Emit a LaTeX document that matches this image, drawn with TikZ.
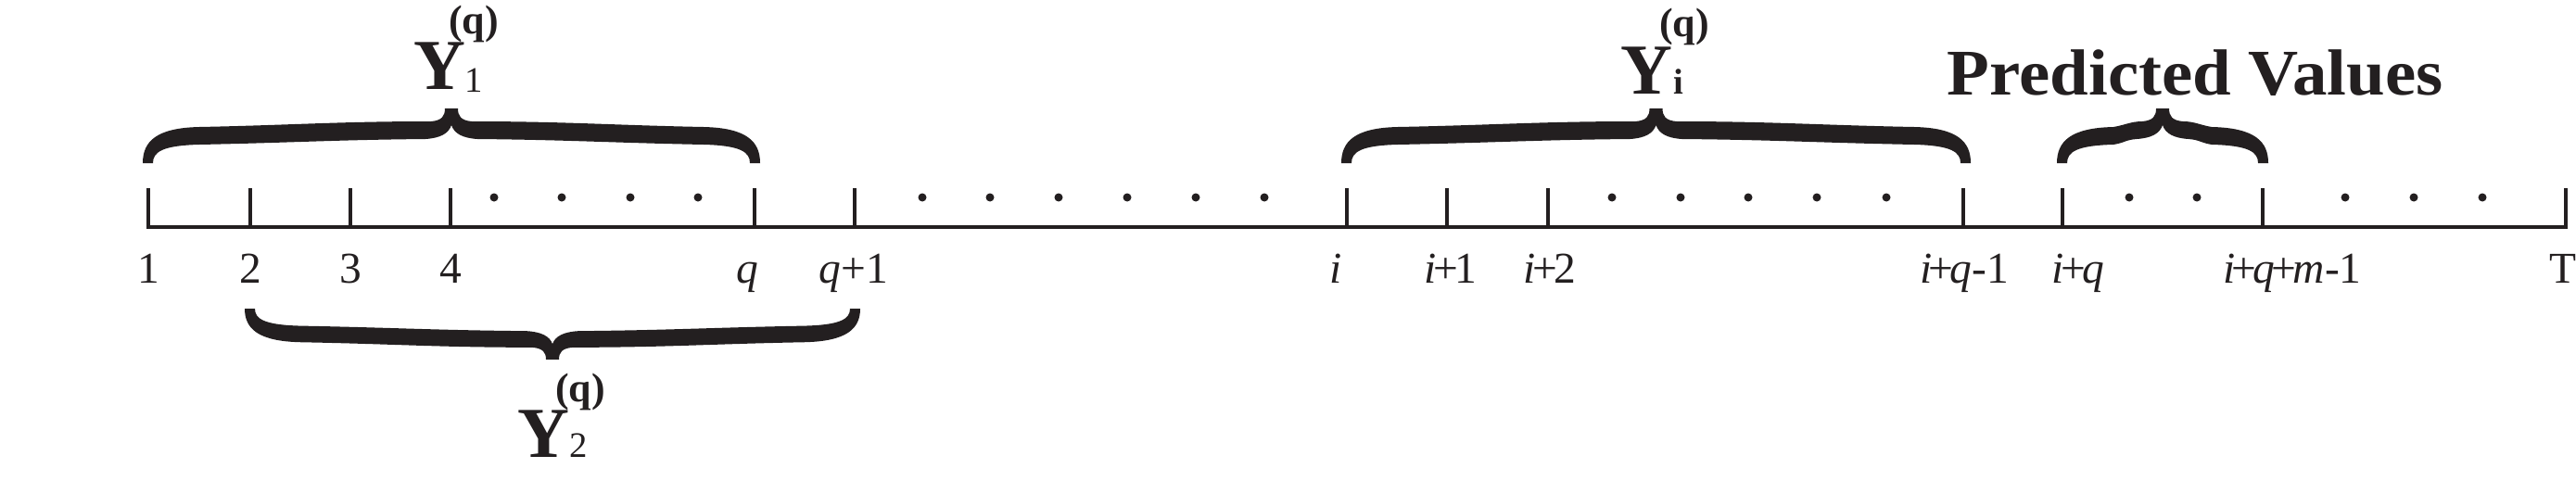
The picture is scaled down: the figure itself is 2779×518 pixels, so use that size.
\documentclass[tikz,border=0pt]{standalone}
\usepackage{fontspec}
\setmainfont{Liberation Serif}
\definecolor{ink}{RGB}{35,31,32}
\newcommand{\pl}{\kern-0.08em+\kern-0.08em}
\newcommand{\Brace}[4]{%
  \pgfmathsetmacro{\ba}{(#2-#1)/2}%
  \pgfmathsetmacro{\bk}{(\ba-77)*0.4}%
  \fill[ink, shift={(#1,#3)}, yscale=#4]
    (-6,0) .. controls (-6,23) and (8,38) .. (55,39)
    .. controls ({55+\bk},41) and ({\ba-22-\bk},45) .. ({\ba-22},45)
    .. controls ({\ba-10},46) and ({\ba-7},51) .. ({\ba-7},59)
    -- ({\ba+7},59)
    .. controls ({\ba+7},51) and ({\ba+10},46) .. ({\ba+22},45)
    .. controls ({\ba+22+\bk},45) and ({2*\ba-55-\bk},41) .. ({2*\ba-55},39)
    .. controls ({2*\ba-8},38) and ({2*\ba+6},23) .. ({2*\ba+6},0)
    -- ({2*\ba-5},0)
    .. controls ({2*\ba-5},12) and ({2*\ba-15},19) .. ({2*\ba-55},20)
    .. controls ({2*\ba-55-\bk},22) and ({\ba+28+\bk},25) .. ({\ba+28},26)
    .. controls ({\ba+12},27) and ({\ba+3},32) .. (\ba,41)
    .. controls ({\ba-3},32) and ({\ba-12},27) .. ({\ba-28},26)
    .. controls ({\ba-28-\bk},25) and ({55+\bk},22) .. (55,20)
    .. controls (15,19) and (5,12) .. (5,0)
    -- cycle;}
\begin{document}
\begin{tikzpicture}[x=0.01cm, y=-0.01cm,
  axis/.style={draw=ink, line width=1.1pt, line join=miter},
  tickline/.style={draw=ink, line width=0.9pt},
  lab/.style={anchor=base, inner sep=0pt, text=ink, font=\fontsize{13.5}{16}\selectfont},
  bigY/.style={anchor=base, inner sep=0pt, text=ink, font=\fontsize{22}{24}\selectfont\bfseries},
  subY/.style={anchor=base, inner sep=0pt, text=ink, font=\fontsize{11}{13}\selectfont},
  supY/.style={anchor=base, inner sep=0pt, text=ink, font=\fontsize{12.5}{14}\selectfont\bfseries},
  title/.style={anchor=base, inner sep=0pt, text=ink, font=\fontsize{20}{22}\selectfont\bfseries}]
\useasboundingbox (0,0) rectangle (2779,518);
% ticks
\foreach \x [count=\i] in {160,270,378,486,814,922,1453,1561,1670,2118,2225,2441,2768} {
  \coordinate (b\i) at (\x,245);
  \coordinate (t\i) at (\x,203);
}
\draw[axis] (t1) -- (b1) -- (b13) -- (t13);
\foreach \i in {2,...,12} \draw[tickline] (b\i) -- (t\i);
% dots
\foreach \x in {533,606,680,753, 995,1068,1142,1216,1290,1364, 1739,1813,1886,1960,2035, 2297,2370, 2530,2604,2678}
  \fill[ink] (\x,213) circle[radius=0.045cm];
% tick labels
\node[lab] (l1) at (160,305) {1};
\node[lab] (l2) at (270,305) {2};
\node[lab] (l3) at (378,305) {3};
\node[lab] (l4) at (486,305) {4};
\node[lab] (lq) at (806,305) {\textit{q}};
\node[lab] (lq1) at (921,305) {\textit{q}+1};
\node[lab] (li) at (1441,305) {\textit{i}};
\node[lab] (li1) at (1565,305) {\textit{i}\pl1};
\node[lab] (li2) at (1672,305) {\textit{i}\pl2};
\node[lab] (liq1) at (2119,305) {\textit{i}\pl\textit{q}-1};
\node[lab] (liq) at (2242,305) {\textit{i}\pl\textit{q}};
\node[lab] (liqm) at (2473,305) {\textit{i}\pl\textit{q}\pl\textit{m}-1};
\node[lab] (lT) at (2765,305) {T};
% braces
\Brace{160}{814}{176}{-1}
\Brace{1453}{2120}{176}{-1}
\Brace{2225}{2441}{176}{-1}
\Brace{270}{922}{333}{0.93}
% brace labels
\node[bigY] (Y1) at (474,97) {Y};
\node[subY] (Y1s) at (511,99) {1};
\node[supY] (Y1q) at (511,36) {(q)};
\node[bigY] (Yi) at (1776,101) {Y};
\node[subY] (Yis) at (1811,101) {\bfseries i};
\node[supY] (Yiq) at (1817,39) {(q)};
\node[bigY] (Y2) at (586,493) {Y};
\node[subY] (Y2s) at (624,493) {2};
\node[supY] (Y2q) at (626,433) {(q)};
\node[title] (pv) at (2368,102) {\scalebox{1.065}[1]{Predicted Values}};
\end{tikzpicture}
\end{document}
